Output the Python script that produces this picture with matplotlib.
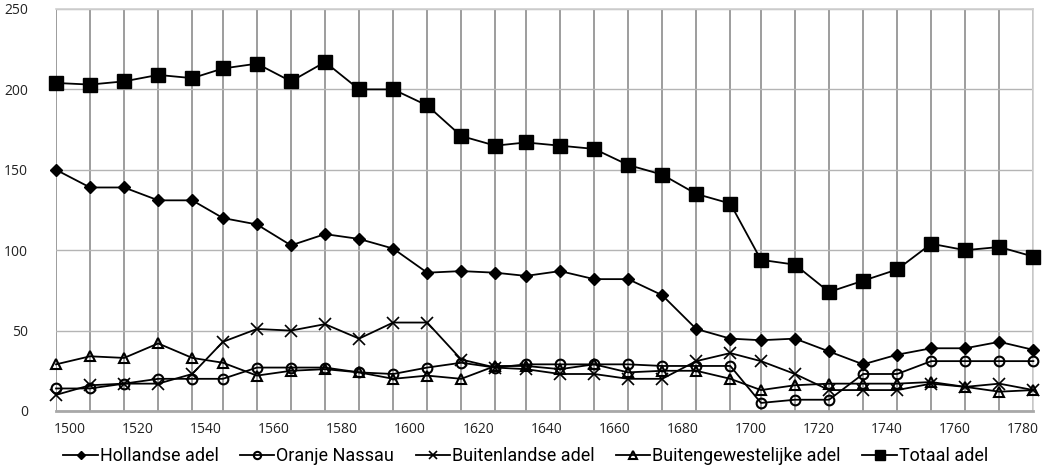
import matplotlib
matplotlib.use("Agg")
import matplotlib.pyplot as plt

# periods (approximate midpoint years of the 30 measurement points)
years = [1496, 1506, 1516, 1526, 1536, 1545, 1555, 1565, 1575, 1585,
         1595, 1605, 1615, 1625, 1634, 1644, 1654, 1664, 1674, 1684,
         1694, 1703, 1713, 1723, 1733, 1743, 1753, 1763, 1773, 1783]

hollandse = [150, 139, 139, 131, 131, 120, 116, 103, 110, 107,
             101, 86, 87, 86, 84, 87, 82, 82, 72, 51,
             45, 44, 45, 37, 29, 35, 39, 39, 43, 38]
oranje = [14, 14, 17, 20, 20, 20, 27, 27, 27, 24,
          23, 27, 30, 27, 29, 29, 29, 29, 28, 28,
          28, 5, 7, 7, 23, 23, 31, 31, 31, 31]
buitenlandse = [10, 16, 17, 17, 23, 43, 51, 50, 54, 45,
                55, 55, 32, 27, 26, 23, 23, 20, 20, 31,
                36, 31, 23, 13, 13, 13, 17, 15, 17, 13]
buitengewest = [29, 34, 33, 42, 33, 30, 22, 25, 26, 24,
                20, 22, 20, 28, 28, 26, 29, 24, 25, 25,
                20, 13, 16, 17, 17, 17, 18, 15, 12, 13]
totaal = [204, 203, 205, 209, 207, 213, 216, 205, 217, 200,
          200, 190, 171, 165, 167, 165, 163, 153, 147, 135,
          129, 94, 91, 74, 81, 88, 104, 100, 102, 96]

xticks = [1500, 1520, 1540, 1560, 1580, 1600, 1620, 1640, 1660, 1680,
          1700, 1720, 1740, 1760, 1780]
yticks = [0, 50, 100, 150, 200, 250]

tick_font = "Open Sans"
legend_font = "Roboto"

fig = plt.figure(figsize=(10.47, 4.76), dpi=100)
ax = fig.add_axes([0.0535, 0.1366, 0.9335, 0.8445])

series = [
    (hollandse, "Hollandse adel", dict(marker="D", markersize=6, markerfacecolor="black")),
    (oranje, "Oranje Nassau", dict(marker="o", markersize=7, markerfacecolor="none", markeredgewidth=1.5)),
    (buitenlandse, "Buitenlandse adel", dict(marker="x", markersize=8, markeredgewidth=1.2)),
    (buitengewest, "Buitengewestelijke adel", dict(marker="^", markersize=7, markerfacecolor="none", markeredgewidth=1.5)),
    (totaal, "Totaal adel", dict(marker="s", markersize=10, markerfacecolor="black")),
]
for vals, lab, st in series:
    ax.plot(years, vals, color="black", linewidth=1.3, label=lab,
            markeredgecolor="black", zorder=3, clip_on=False, **st)

ax.set_xlim(years[0], years[-1])
ax.set_ylim(0, 250)
ax.set_yticks(yticks)
ax.set_xticks(xticks)
ax.set_xticks(years, minor=True)
ax.tick_params(which="both", length=0)
ax.tick_params(axis="x", pad=8)
ax.tick_params(axis="y", pad=20)
ax.grid(True, which="minor", axis="x", color="#8c8c8c", linewidth=1.2)
ax.grid(True, which="major", axis="y", color="#b4b4b4", linewidth=1.0)
ax.set_axisbelow(True)
for lbl in ax.get_xticklabels() + ax.get_yticklabels():
    lbl.set_fontfamily(tick_font)
    lbl.set_fontsize(10)
    lbl.set_color("#222222")

for side in ["top", "right"]:
    ax.spines[side].set_color("#d0d0d0")
    ax.spines[side].set_linewidth(1.2)
ax.spines["left"].set_visible(False)
ax.spines["bottom"].set_color("#a8a8a8")
ax.spines["bottom"].set_linewidth(2)

leg = fig.legend(loc="lower center", bbox_to_anchor=(0.502, -0.012), ncol=5,
                 frameon=False, handlelength=1.9, columnspacing=1.2,
                 handletextpad=0.1, markerscale=0.75,
                 prop={"family": legend_font, "size": 13})

fig.savefig("out.png", dpi=100)
